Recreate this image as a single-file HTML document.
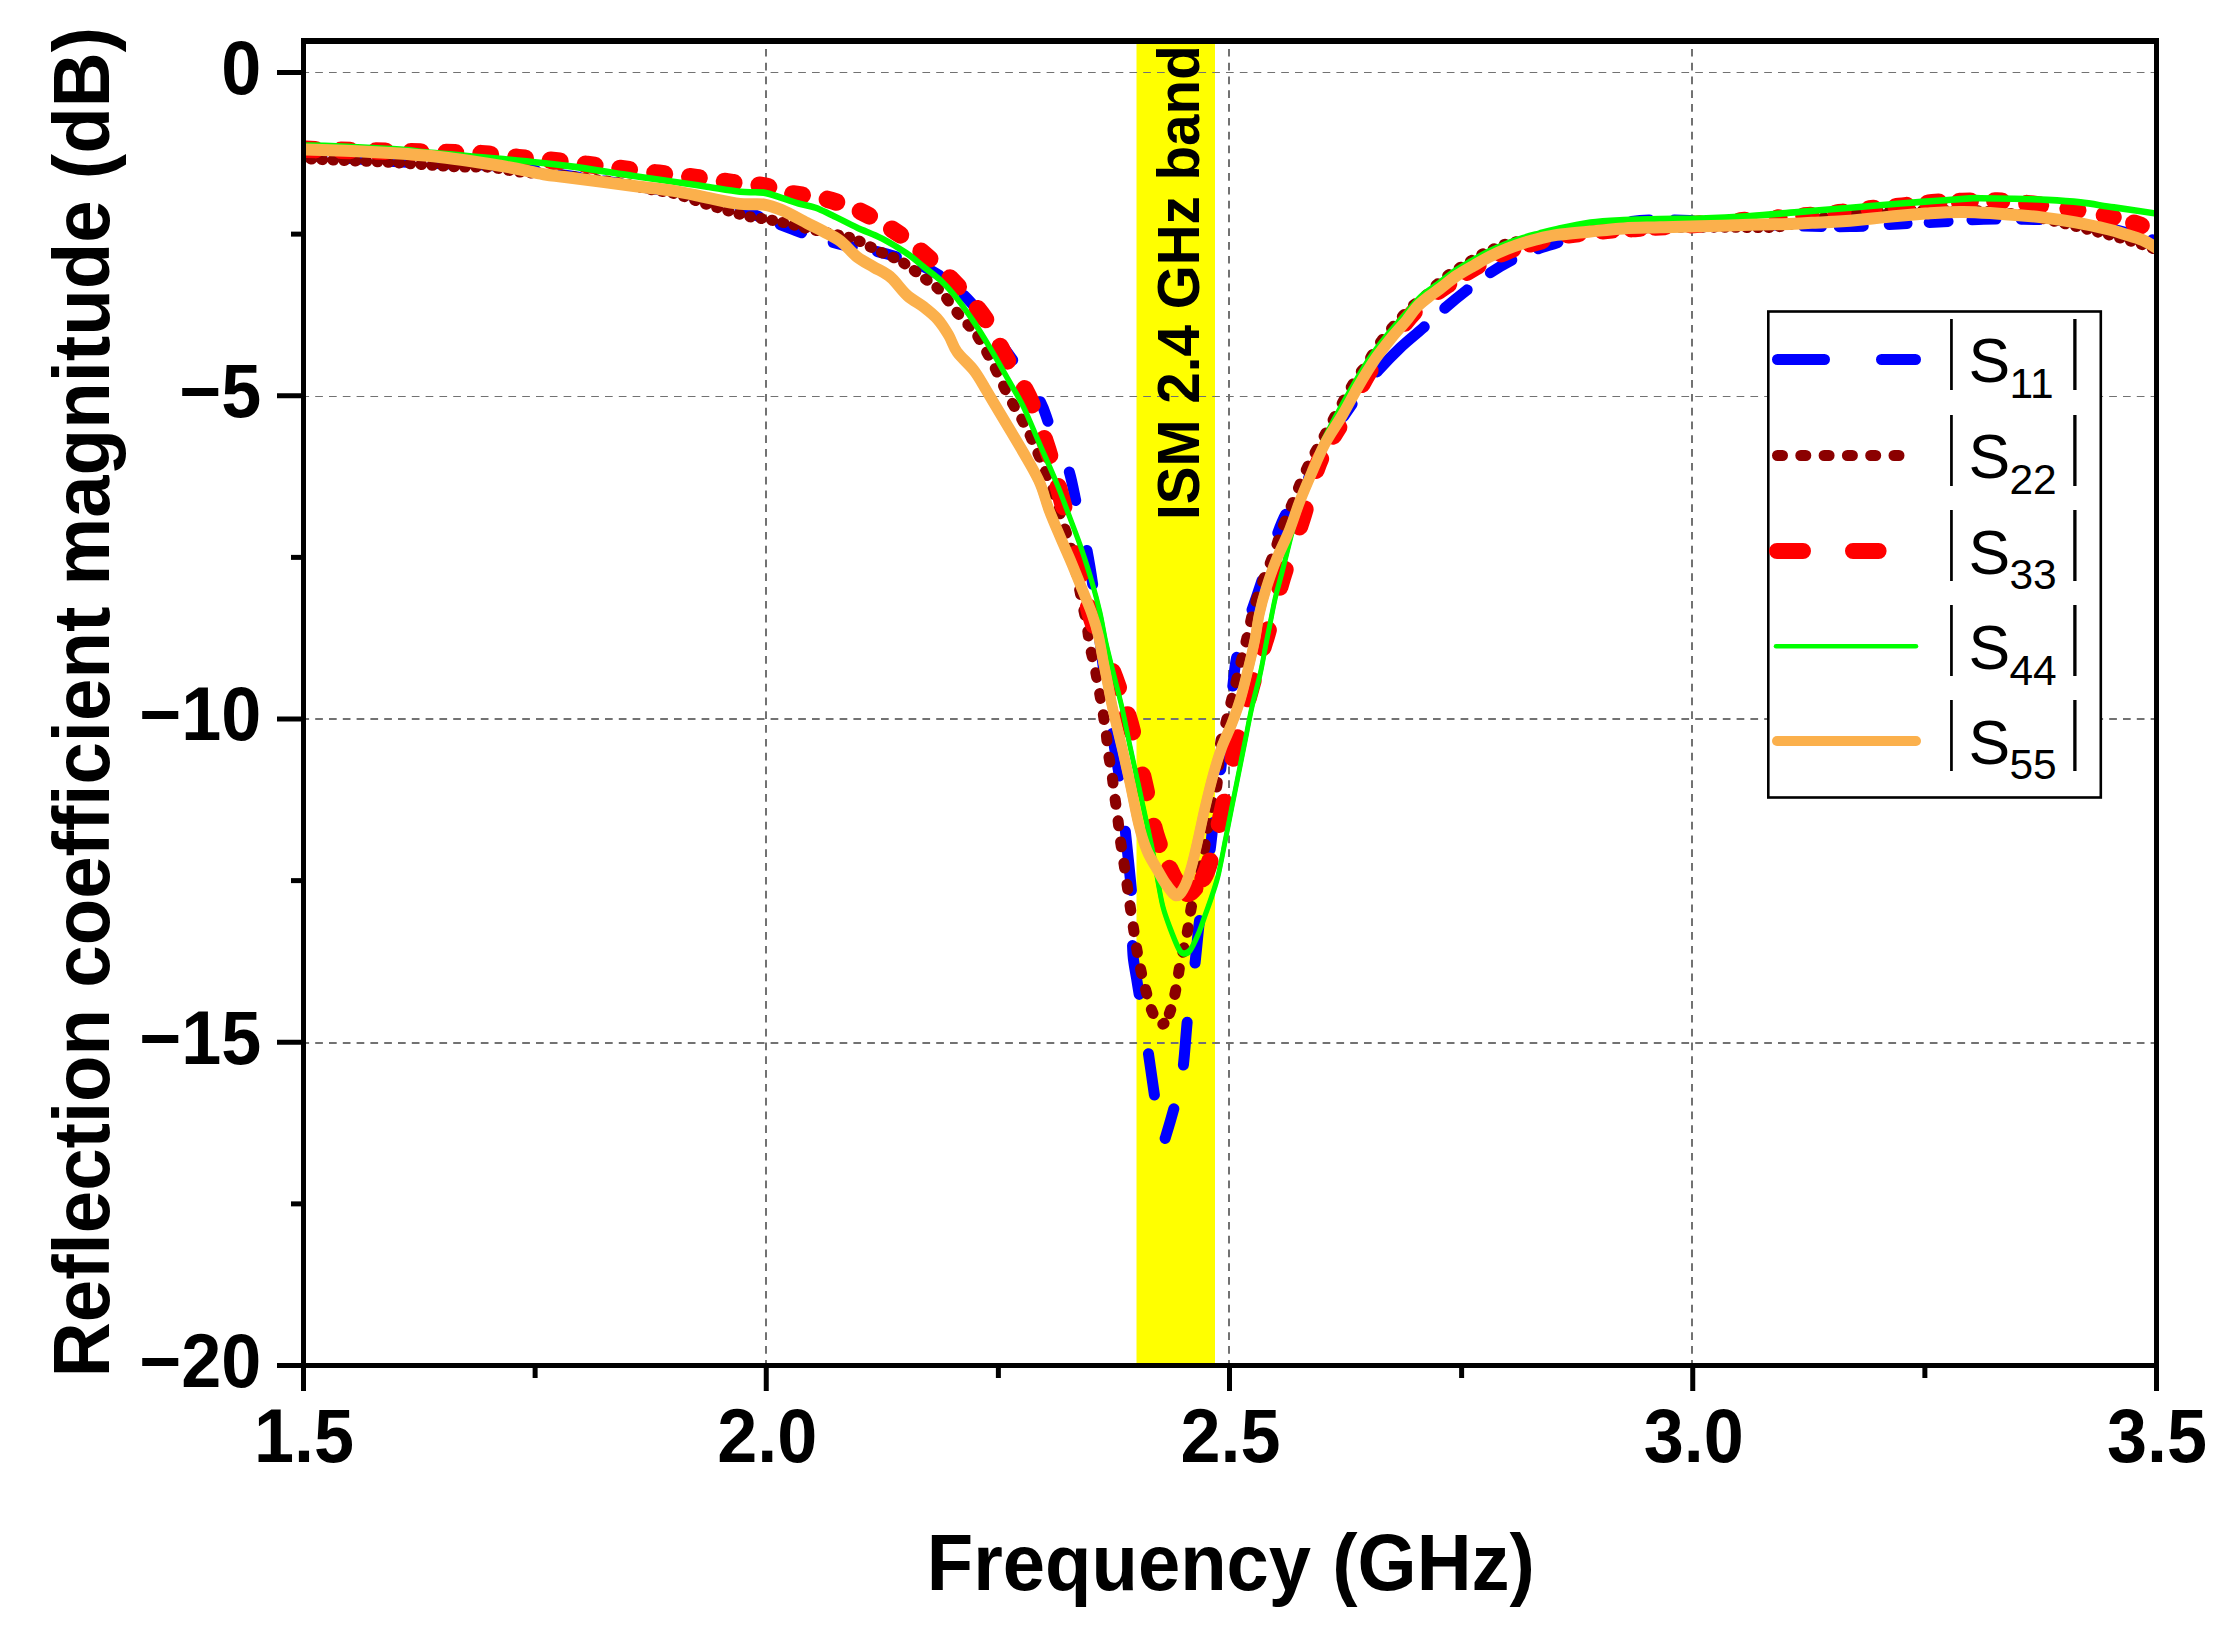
<!DOCTYPE html>
<html><head><meta charset="utf-8"><title>Reflection coefficient magnitude</title>
<style>
html,body{margin:0;padding:0;background:#fff;}
svg{display:block}
text{font-family:"Liberation Sans", sans-serif;fill:#000}
.b{font-weight:bold}
</style></head><body>
<svg width="2217" height="1638" viewBox="0 0 2217 1638">
<rect width="2217" height="1638" fill="#fff"/>
<defs><clipPath id="cp"><rect x="306" y="44" width="1848" height="1319"/></clipPath></defs>

<rect x="1136.5" y="44" width="78.5" height="1319" fill="#ffff00"/>
<g stroke="#727272" stroke-dasharray="7.7 6.1" stroke-dashoffset="4.6" fill="none"><line x1="766" y1="1363" x2="766" y2="44" stroke-width="2"/><line x1="1229" y1="1363" x2="1229" y2="44" stroke-width="2"/><line x1="1692" y1="1363" x2="1692" y2="44" stroke-width="2"/><line x1="306" y1="72.5" x2="2154" y2="72.5" stroke-width="1.15"/><line x1="306" y1="396.5" x2="2154" y2="396.5" stroke-width="1.15"/><line x1="306" y1="719" x2="2154" y2="719" stroke-width="2"/><line x1="306" y1="1043" x2="2154" y2="1043" stroke-width="2"/></g>
<text class="b" font-size="56.6" transform="translate(1199,520) rotate(-90) scale(1,1.035)">ISM 2.4 GHz band</text>
<g clip-path="url(#cp)" fill="none" stroke-linecap="round" stroke-linejoin="round">
<path d="M300.0,155.2C309.7,155.8 344.7,158.0 358.0,158.9C371.3,159.8 369.2,160.1 380.0,160.8C390.8,161.5 412.0,162.5 423.0,163.0C434.0,163.5 436.5,163.5 446.0,163.8C455.5,164.1 467.7,164.0 480.0,164.8C492.3,165.6 505.5,166.7 520.0,168.5C534.5,170.3 550.3,173.0 567.0,175.5C583.7,178.0 606.2,181.3 620.0,183.5C633.8,185.7 641.2,187.2 650.0,188.5C658.8,189.8 666.3,190.4 673.0,191.5C679.7,192.6 684.4,193.8 690.0,195.0C695.6,196.2 701.0,197.3 706.8,199.0C712.6,200.7 717.0,202.3 725.0,205.0C733.0,207.7 744.2,211.1 755.0,215.0C765.8,218.9 781.4,225.1 790.0,228.3C798.6,231.6 798.0,231.7 806.9,234.5C815.8,237.3 830.2,241.9 843.6,245.2C857.0,248.4 872.0,249.6 887.0,254.0C902.0,258.4 919.8,263.9 933.7,271.9C947.6,279.9 959.0,289.7 970.4,301.9C981.8,314.1 990.8,329.2 1002.0,345.0C1013.2,360.8 1029.6,383.1 1037.6,396.7C1045.6,410.3 1045.1,415.0 1050.1,426.7C1055.1,438.4 1063.2,453.6 1067.7,466.8C1072.2,480.0 1073.9,492.9 1076.9,506.0C1080.0,519.1 1083.2,531.2 1086.0,545.2C1088.8,559.2 1090.7,570.3 1093.5,590.3C1096.3,610.3 1099.7,640.0 1103.0,665.0C1106.3,690.0 1110.6,720.6 1113.4,740.1C1116.2,759.6 1118.1,767.1 1120.1,781.9C1122.0,796.6 1123.1,809.7 1125.1,828.6C1127.0,847.5 1130.6,879.2 1131.8,895.3C1133.0,911.4 1132.0,915.0 1132.2,925.0C1132.4,935.0 1132.3,946.2 1133.0,955.0C1133.7,963.8 1135.3,970.5 1136.5,978.0C1137.7,985.5 1138.2,988.4 1140.1,1000.2C1142.0,1012.0 1145.2,1031.9 1147.7,1048.6C1150.2,1065.3 1153.2,1087.4 1155.2,1100.3C1157.2,1113.2 1158.3,1119.6 1159.5,1126.0C1160.7,1132.4 1161.6,1136.0 1162.3,1138.5C1163.0,1141.0 1163.2,1141.2 1163.8,1141.0C1164.3,1140.8 1163.7,1143.2 1165.6,1137.0C1167.5,1130.8 1172.3,1114.7 1175.2,1103.6C1178.1,1092.5 1180.6,1084.8 1182.7,1070.3C1184.8,1055.8 1185.8,1033.9 1187.7,1016.9C1189.7,999.9 1192.3,985.5 1194.4,968.5C1196.5,951.5 1197.7,933.9 1200.2,915.0C1202.7,896.1 1207.1,871.6 1209.4,855.3C1211.7,838.9 1212.2,830.2 1214.0,816.9C1215.8,803.5 1218.2,789.1 1220.0,775.2C1221.8,761.3 1223.0,747.4 1225.0,733.5C1227.0,719.6 1229.8,705.3 1232.0,691.7C1234.2,678.1 1233.8,667.8 1238.0,651.7C1242.2,635.6 1249.8,616.9 1257.1,595.3C1264.4,573.7 1274.9,538.6 1282.1,521.9C1289.2,505.2 1293.7,506.1 1300.0,495.0C1306.3,483.9 1313.3,467.2 1320.0,455.0C1326.7,442.8 1333.3,432.3 1340.0,422.0C1346.7,411.7 1353.6,401.6 1360.0,393.0C1366.4,384.4 1371.8,377.7 1378.5,370.2C1385.2,362.7 1392.6,355.0 1400.0,348.0C1407.4,341.0 1415.5,334.7 1423.0,328.0C1430.5,321.3 1437.7,314.3 1445.0,308.0C1452.3,301.7 1459.5,295.8 1467.0,290.0C1474.5,284.2 1482.5,278.0 1490.0,273.0C1497.5,268.0 1504.5,263.8 1512.0,260.0C1519.5,256.2 1527.0,253.1 1535.0,250.0C1543.0,246.9 1549.2,245.4 1560.0,241.7C1570.8,238.0 1586.7,231.5 1600.0,228.0C1613.3,224.5 1625.0,221.8 1640.0,220.6C1655.0,219.4 1671.7,220.0 1690.0,220.6C1708.3,221.2 1731.7,223.1 1750.0,224.0C1768.3,224.9 1783.3,225.6 1800.0,226.0C1816.7,226.4 1833.5,226.9 1850.0,226.6C1866.5,226.3 1883.9,224.8 1898.7,224.0C1913.5,223.2 1924.6,222.8 1938.8,222.0C1953.0,221.2 1969.6,219.8 1983.8,219.3C1998.0,218.9 2011.2,219.1 2023.9,219.3C2036.6,219.5 2047.3,219.3 2060.0,220.5C2072.7,221.7 2088.3,224.3 2100.0,226.5C2111.7,228.7 2120.0,230.9 2130.0,233.5C2140.0,236.1 2155.0,240.6 2160.0,242.0" stroke="#0000ff" stroke-width="11" stroke-dasharray="0.0 4.0 18.0 25.0 18.0 25.0 18.0 25.0 18.0 25.0 18.0 25.0 18.0 25.0 18.0 25.0 18.0 25.0 18.0 25.0 18.0 35.9 19.7 22.8 23.2 33.0 19.8 25.2 20.1 28.0 18.6 31.6 18.7 46.0 16.6 49.7 21.6 54.8 29.3 51.2 34.7 53.1 35.3 61.5 43.6 55.4 59.3 55.0 49.8 60.0 41.2 51.4 30.5 45.2 42.6 59.9 42.8 71.4 27.5 53.3 30.9 53.4 29.5 49.7 30.9 50.1 20.3 43.1 25.2 45.6 15.1 40.8 65.3 27.7 29.0 28.8 24.9 28.7 20.9 33.3 18.2 25.2 18.0 25.0 18.0 25.0 18.0 25.0 18.0 25.0 18.0 17.7 24.1 26.0 17.8 22.5 18.9 23.5 24.1 25.2 18.4 18.5 18.0 36.1 19.9 22.4 2.5 55.5"/>
<path d="M300.0,158.0C303.3,158.2 308.3,158.9 320.0,159.5C331.7,160.1 356.7,160.9 370.0,161.5C383.3,162.1 389.2,162.3 400.0,163.0C410.8,163.7 425.0,164.8 435.0,165.5C445.0,166.2 450.8,166.7 460.0,167.0C469.2,167.3 480.0,166.5 490.0,167.3C500.0,168.1 507.2,170.6 520.0,172.0C532.8,173.4 550.3,174.2 567.0,176.0C583.7,177.8 606.2,180.8 620.0,183.0C633.8,185.2 641.1,187.8 650.0,189.5C658.9,191.2 666.7,191.8 673.4,193.3C680.1,194.8 684.4,196.7 690.0,198.5C695.6,200.3 698.4,201.7 706.8,204.3C715.1,206.9 732.2,212.1 740.1,214.3C748.0,216.5 749.8,216.8 754.3,217.6C758.8,218.4 760.8,218.2 766.8,219.3C772.8,220.4 783.5,222.5 790.2,224.0C796.9,225.5 797.5,226.4 806.9,228.5C816.3,230.6 838.5,234.9 846.9,236.8C855.2,238.7 853.4,238.6 857.0,240.1C860.6,241.6 864.4,243.9 868.6,246.0C872.8,248.1 877.5,250.6 882.0,252.7C886.5,254.8 891.1,256.4 895.3,258.5C899.5,260.6 903.4,262.8 907.0,265.2C910.6,267.6 913.7,270.2 917.0,272.7C920.3,275.2 923.6,277.7 927.0,280.2C930.4,282.7 934.0,284.9 937.1,287.7C940.2,290.5 942.5,293.3 945.4,296.9C948.3,300.5 951.3,305.2 954.6,309.4C957.9,313.6 961.9,318.0 965.4,321.9C968.9,325.8 972.3,328.6 975.4,332.8C978.5,337.0 981.0,342.1 983.8,347.0C986.6,351.9 989.3,356.6 992.1,362.0C994.9,367.4 997.7,373.7 1000.5,379.5C1003.3,385.3 1006.0,391.4 1009.0,397.0C1012.0,402.6 1015.4,408.2 1018.4,413.4C1021.4,418.6 1024.1,423.1 1026.8,428.4C1029.5,433.7 1032.1,440.1 1034.3,445.1C1036.5,450.1 1038.0,453.4 1040.1,458.4C1042.2,463.4 1044.6,469.2 1046.8,475.1C1049.0,481.0 1050.6,484.9 1053.5,493.5C1056.4,502.1 1061.5,518.3 1064.3,526.9C1067.1,535.5 1068.2,537.5 1070.2,545.0C1072.2,552.5 1074.0,562.7 1076.0,572.0C1078.0,581.3 1080.1,592.1 1081.9,601.0C1083.7,609.9 1085.6,618.0 1086.9,625.3C1088.2,632.6 1088.5,638.4 1089.7,645.0C1090.9,651.6 1092.8,658.0 1094.3,665.0C1095.8,672.0 1097.0,679.2 1098.4,686.7C1099.8,694.2 1101.3,702.6 1102.6,710.1C1103.8,717.6 1104.9,724.6 1105.9,731.8C1106.9,739.0 1107.4,746.5 1108.4,753.5C1109.4,760.5 1110.8,766.8 1111.8,773.5C1112.8,780.2 1113.3,786.3 1114.3,793.5C1115.3,800.7 1116.6,809.4 1117.6,816.9C1118.6,824.4 1119.1,831.4 1120.1,838.6C1121.1,845.8 1122.4,852.9 1123.5,860.3C1124.6,867.7 1125.7,875.4 1126.8,883.0C1127.9,890.6 1129.0,898.4 1130.1,906.0C1131.2,913.6 1132.4,921.2 1133.5,928.4C1134.6,935.6 1135.5,942.2 1136.8,949.3C1138.0,956.4 1139.5,964.0 1141.0,971.0C1142.5,978.0 1144.3,984.8 1146.0,991.0C1147.7,997.2 1149.2,1003.6 1151.0,1008.5C1152.8,1013.4 1155.0,1017.6 1156.8,1020.2C1158.6,1022.9 1160.1,1024.5 1161.8,1024.4C1163.5,1024.3 1165.0,1022.9 1166.8,1019.4C1168.6,1015.9 1171.0,1009.5 1172.7,1003.5C1174.4,997.5 1175.7,990.2 1176.9,983.5C1178.2,976.8 1179.0,969.7 1180.2,963.4C1181.5,957.1 1183.2,951.4 1184.4,945.9C1185.7,940.4 1186.6,936.2 1187.7,930.1C1188.8,924.0 1189.8,915.7 1191.0,909.0C1192.2,902.3 1193.7,896.2 1195.2,890.0C1196.7,883.8 1198.7,878.9 1200.2,872.0C1201.7,865.1 1203.2,855.8 1204.4,848.6C1205.7,841.4 1206.5,835.6 1207.7,828.6C1209.0,821.6 1210.4,814.1 1211.9,806.9C1213.4,799.7 1215.5,795.5 1216.9,785.2C1218.3,774.9 1218.9,755.0 1220.3,745.0C1221.7,735.0 1223.6,731.8 1225.3,725.1C1227.0,718.5 1228.6,711.8 1230.3,705.1C1232.0,698.4 1233.6,691.8 1235.3,685.1C1237.0,678.4 1238.7,671.5 1240.3,665.0C1241.9,658.5 1243.6,651.8 1245.0,646.0C1246.4,640.2 1247.2,636.5 1248.7,630.3C1250.2,624.1 1251.6,616.4 1253.8,608.6C1256.0,600.8 1259.3,590.8 1261.9,583.6C1264.5,576.4 1267.0,571.3 1269.4,565.2C1271.8,559.1 1274.0,553.0 1276.1,546.9C1278.2,540.8 1279.6,534.9 1282.0,528.5C1284.4,522.1 1287.8,514.6 1290.3,508.5C1292.8,502.4 1294.8,497.4 1297.0,491.8C1299.2,486.2 1301.3,480.6 1303.8,475.1C1306.3,469.6 1308.9,464.1 1311.8,458.6C1314.7,453.1 1317.9,447.5 1321.0,441.9C1324.1,436.3 1327.0,431.0 1330.2,425.2C1333.4,419.4 1337.0,412.7 1340.2,406.9C1343.4,401.1 1346.3,395.5 1349.4,390.2C1352.5,384.9 1355.8,379.4 1358.6,375.2C1361.4,371.0 1363.3,369.4 1366.1,365.2C1368.9,361.0 1372.2,354.8 1375.2,350.1C1378.2,345.4 1381.2,341.0 1384.4,336.8C1387.6,332.6 1391.2,328.7 1394.4,325.1C1397.6,321.5 1400.4,318.4 1403.6,315.1C1406.8,311.8 1410.3,308.0 1413.6,305.1C1416.9,302.2 1420.2,300.5 1423.6,297.6C1426.9,294.7 1430.1,290.9 1433.7,287.5C1437.3,284.1 1441.5,280.4 1445.3,277.5C1449.0,274.6 1452.9,272.2 1456.2,270.0C1459.5,267.8 1462.2,266.2 1465.4,264.2C1468.6,262.3 1472.1,260.2 1475.4,258.3C1478.7,256.4 1482.1,254.2 1485.4,252.5C1488.7,250.8 1491.5,249.8 1495.4,248.3C1499.3,246.8 1501.1,245.1 1508.8,243.3C1516.5,241.5 1529.9,239.6 1541.8,237.6C1553.7,235.6 1567.0,233.0 1580.0,231.5C1593.0,230.0 1606.7,229.2 1620.0,228.5C1633.3,227.8 1643.9,227.7 1660.0,227.5C1676.1,227.3 1697.9,227.2 1716.8,227.2C1735.7,227.1 1759.7,228.1 1773.6,227.2C1787.5,226.3 1791.4,223.6 1800.0,222.0C1808.6,220.4 1816.7,218.9 1825.0,217.5C1833.3,216.1 1835.3,214.6 1850.0,213.5C1864.7,212.4 1894.7,211.6 1913.0,211.0C1931.3,210.4 1945.5,209.8 1960.0,210.0C1974.5,210.2 1988.3,211.5 2000.0,212.5C2011.7,213.5 2019.3,214.2 2030.0,216.0C2040.7,217.8 2053.3,221.0 2064.0,223.5C2074.7,226.0 2084.3,228.5 2094.0,231.0C2103.7,233.5 2114.1,236.1 2122.4,238.5C2130.7,240.9 2137.7,243.1 2144.0,245.2C2150.3,247.3 2157.3,250.0 2160.0,251.0" stroke="#8b0000" stroke-width="11" stroke-dasharray="0.8 10.2 0.8 10.2 0.8 10.2 0.8 10.2 0.8 10.2 0.8 10.2 0.8 10.2 0.8 10.2 0.8 10.2 0.8 10.2 0.8 10.2 0.8 10.2 0.8 10.2 0.8 10.2 0.8 10.2 0.8 10.2 0.8 10.2 0.8 10.2 0.8 10.3 0.9 10.3 0.8 10.2 0.8 10.2 0.8 10.2 0.8 10.2 0.8 10.2 0.8 10.2 0.8 10.2 0.8 10.2 0.8 10.2 0.8 10.3 0.9 10.3 0.9 10.4 0.9 10.3 0.8 10.2 0.9 10.3 1.1 10.6 1.1 10.6 1.0 10.5 1.0 10.5 1.0 10.5 1.0 10.5 0.9 10.3 0.8 10.2 0.9 10.3 0.9 10.3 1.0 10.5 0.9 10.4 0.9 10.3 0.9 10.3 0.9 10.3 0.9 10.4 1.3 11.1 1.4 11.1 1.3 11.0 1.3 10.9 1.6 11.5 2.1 12.1 2.0 12.0 2.3 12.5 3.2 13.9 2.9 13.5 2.6 13.0 3.6 14.5 3.8 14.8 4.0 15.2 4.1 15.3 3.7 14.7 3.7 14.7 4.2 15.4 4.2 15.4 4.3 15.7 4.4 15.8 4.5 15.9 4.5 15.9 4.7 16.3 4.8 16.4 4.8 16.4 4.8 16.3 4.9 16.6 4.7 16.3 4.8 16.4 4.8 16.4 4.9 16.5 4.9 16.6 4.9 16.5 4.9 16.6 4.9 16.5 4.9 16.6 4.9 16.5 4.9 16.5 4.9 16.5 4.9 16.5 4.9 16.5 4.8 16.5 4.8 16.3 4.7 16.2 4.3 15.7 1.4 11.1 4.3 15.7 4.8 16.4 4.9 16.5 4.7 16.2 4.8 16.4 4.9 16.5 4.7 16.2 4.8 16.3 4.9 16.5 4.8 16.4 4.8 16.4 4.9 16.5 5.0 16.7 4.9 16.5 4.7 16.2 4.7 16.2 4.7 16.2 4.7 16.2 4.7 16.3 4.8 16.3 4.5 16.0 4.4 15.7 4.3 15.7 4.5 16.0 4.3 15.6 4.3 15.6 4.3 15.6 4.1 15.2 3.8 14.9 3.8 14.9 3.8 14.9 3.8 14.9 3.7 14.7 3.1 13.7 3.7 14.7 3.4 14.2 2.8 13.4 2.7 13.1 2.3 12.6 2.5 12.8 2.3 12.6 1.9 12.0 1.7 11.6 1.6 11.4 1.6 11.4 1.1 10.7 1.0 10.6 0.9 10.3 0.8 10.3 0.8 10.3 0.9 10.3 0.8 10.3 0.8 10.3 0.8 10.2 0.8 10.2 0.8 10.2 0.8 10.2 0.8 10.2 0.8 10.2 0.8 10.2 0.8 10.2 0.8 10.2 0.8 10.2 0.8 10.2 0.8 10.2 0.8 10.2 0.8 10.2 0.8 10.2 0.8 10.2 0.8 10.2 0.8 10.2 0.8 10.2 0.9 10.4 0.9 10.3 0.9 10.3 0.8 10.3 0.9 10.3 0.8 10.2 0.8 10.2 0.8 10.2 0.8 10.2 0.8 10.2 0.8 10.2 0.8 10.2 0.8 10.2 0.8 10.2 0.8 10.2 0.8 10.2 0.8 10.2 0.8 10.2 0.8 10.2 0.8 10.2 0.8 10.2 0.8 10.2 0.9 10.3 0.9 10.3 0.9 10.4 0.9 10.4 0.9 10.4 0.9 10.4 0.9 10.4 0.9 10.4 1.0 10.4 1.0 10.5 1.0 10.6 1.1 57.2"/>
<path d="M300.0,149.0C305.0,149.2 304.2,149.4 330.0,150.0C355.8,150.6 428.6,152.0 455.0,152.7C481.4,153.4 478.0,153.4 488.6,154.2C499.2,155.0 509.3,156.7 518.6,157.6C527.9,158.5 533.4,158.5 544.5,159.6C555.6,160.7 573.0,162.8 585.4,164.3C597.8,165.7 606.6,166.8 618.8,168.3C631.0,169.8 645.8,171.7 658.8,173.3C671.8,174.8 684.4,176.0 696.7,177.6C709.0,179.2 721.5,181.2 732.6,182.6C743.7,184.0 753.9,184.1 763.5,185.9C773.1,187.7 780.2,191.3 790.2,193.4C800.2,195.5 812.1,195.5 823.6,198.4C835.1,201.3 847.3,205.2 859.5,210.9C871.7,216.6 886.1,225.4 897.0,232.6C907.9,239.8 915.1,246.1 924.6,254.3C934.1,262.5 943.6,271.0 953.8,281.9C963.9,292.8 976.6,306.3 985.5,319.4C994.4,332.5 1000.0,347.4 1007.2,360.3C1014.4,373.2 1021.9,382.3 1028.5,396.7C1035.1,411.1 1041.4,430.1 1046.8,446.8C1052.2,463.5 1055.7,477.3 1061.0,496.8C1066.3,516.3 1073.6,544.1 1078.5,563.6C1083.4,583.1 1086.1,599.5 1090.2,613.6C1094.3,627.7 1098.6,636.4 1103.0,648.0C1107.4,659.6 1112.3,670.8 1116.8,683.4C1121.3,696.0 1125.5,706.7 1130.1,723.4C1134.7,740.1 1140.0,764.9 1144.3,783.5C1148.6,802.1 1151.4,820.3 1156.0,835.3C1160.6,850.3 1167.9,865.0 1171.9,873.6C1175.9,882.2 1177.9,883.8 1180.2,887.0C1182.5,890.2 1183.9,892.5 1186.0,893.0C1188.1,893.5 1189.5,893.8 1193.0,890.0C1196.5,886.2 1202.1,883.0 1206.9,870.3C1211.7,857.6 1217.2,833.9 1221.9,813.6C1226.6,793.3 1230.6,769.1 1235.3,748.5C1240.0,727.9 1245.6,707.4 1250.3,690.1C1255.0,672.9 1260.8,654.4 1263.6,645.0C1266.4,635.6 1264.0,644.8 1267.1,633.7C1270.2,622.6 1276.3,597.8 1282.1,578.6C1287.9,559.4 1296.6,536.0 1302.1,518.5C1307.6,501.0 1311.1,485.1 1314.9,473.4C1318.8,461.8 1321.1,456.9 1325.4,448.6C1329.7,440.4 1335.3,433.1 1340.6,423.9C1345.8,414.7 1351.8,402.7 1356.9,393.3C1362.0,384.0 1365.4,377.1 1371.3,367.9C1377.3,358.6 1385.8,347.1 1392.8,337.9C1399.9,328.6 1407.5,319.2 1413.8,312.4C1420.1,305.5 1425.1,301.5 1430.8,296.9C1436.5,292.2 1440.6,289.4 1448.0,284.5C1455.3,279.5 1467.9,271.6 1475.0,267.3C1482.2,263.0 1485.5,261.2 1491.0,258.4C1496.4,255.7 1502.5,253.0 1507.8,250.8C1513.1,248.7 1517.7,247.3 1522.7,245.8C1527.7,244.3 1532.1,243.2 1537.7,241.7C1543.2,240.2 1550.2,238.1 1556.3,236.8C1562.3,235.5 1565.6,235.1 1574.1,234.0C1582.6,233.0 1596.9,231.2 1607.0,230.3C1617.2,229.4 1619.5,229.4 1635.0,228.4C1650.5,227.3 1676.4,225.7 1700.0,224.0C1723.6,222.3 1758.8,219.5 1776.9,218.1C1795.0,216.7 1798.3,216.5 1808.6,215.6C1818.9,214.7 1828.7,213.9 1838.7,212.8C1848.7,211.7 1858.7,210.1 1868.7,209.0C1878.7,207.9 1888.1,207.4 1898.7,206.4C1909.3,205.4 1921.5,203.6 1932.1,202.8C1942.7,202.0 1951.3,201.7 1962.2,201.4C1973.1,201.1 1985.4,200.5 1997.2,201.0C2009.0,201.5 2020.6,202.9 2033.1,204.3C2045.6,205.7 2059.8,207.4 2072.3,209.3C2084.8,211.2 2097.3,213.5 2108.2,216.0C2119.0,218.5 2128.8,221.6 2137.4,224.3C2146.0,227.0 2156.2,230.7 2160.0,232.0" stroke="#ff0000" stroke-width="17.5" stroke-dasharray="0.0 6.0 9.5 25.5 9.5 25.5 9.5 25.5 9.5 25.5 9.5 25.5 9.5 25.5 9.5 25.5 9.5 25.5 9.5 25.5 9.5 25.5 9.5 25.5 9.5 25.5 9.5 25.5 9.5 25.5 9.5 25.5 9.5 25.6 9.9 26.0 10.4 26.7 11.3 28.0 12.1 29.1 13.3 30.8 16.1 32.9 17.5 35.9 17.5 33.0 20.5 48.6 20.5 34.4 18.5 50.5 16.5 29.3 17.5 44.3 17.5 35.1 18.5 26.4 13.5 17.6 9.5 12.9 18.5 38.2 22.5 45.0 20.5 40.8 18.5 34.7 18.5 44.3 18.5 44.8 18.5 40.4 12.5 26.1 10.5 48.5 16.5 58.4 14.5 32.1 12.5 22.0 12.5 26.1 12.5 18.5 12.5 26.6 10.5 24.0 9.5 19.7 8.5 15.4 9.5 25.5 9.5 40.0 5.0 33.0 1.1 25.5 6.6 25.5 6.7 26.6 4.6 22.5 10.6 21.3 10.8 21.0 10.8 24.4 6.8 25.5 13.7 27.6 9.8 27.1 8.8 21.7 7.7 21.7 0.5 48.2"/>
<g stroke="#00ff00" stroke-width="4.6"><path d="M300.0,145.6C304.2,145.6 308.3,145.1 325.0,145.8C341.7,146.5 383.3,148.5 400.0,149.6C416.7,150.7 416.7,151.6 425.0,152.4C433.3,153.2 441.7,153.7 450.0,154.4C458.3,155.1 466.6,156.0 475.0,156.7C483.4,157.4 485.0,157.3 500.3,158.8C515.6,160.3 544.8,163.0 567.0,165.9C589.2,168.8 616.1,173.4 633.8,176.0C651.5,178.6 661.2,179.9 673.4,181.7C685.6,183.5 695.7,185.0 706.8,186.7C717.9,188.4 730.6,190.8 740.1,191.8C749.6,192.8 756.5,191.6 763.5,192.6C770.5,193.6 776.1,196.2 781.9,198.0C787.7,199.8 793.0,201.9 798.5,203.5C804.0,205.1 809.6,205.7 815.2,207.6C820.8,209.5 824.9,211.8 831.9,215.1C838.9,218.4 848.6,223.7 857.0,227.6C865.4,231.5 873.7,234.2 882.0,238.5C890.3,242.8 900.0,248.8 907.0,253.5C914.0,258.2 918.1,262.4 923.7,266.9C929.3,271.3 934.8,274.9 940.4,280.2C946.0,285.5 951.5,291.7 957.1,298.6C962.7,305.6 968.2,313.6 973.8,321.9C979.4,330.2 984.7,338.9 990.5,348.6C996.3,358.3 1002.9,370.3 1008.4,380.0C1013.9,389.7 1018.1,395.8 1023.4,406.7C1028.7,417.6 1034.5,432.3 1040.1,445.1C1045.7,457.9 1051.8,471.3 1056.8,483.5C1061.8,495.7 1066.0,507.4 1070.2,518.5C1074.4,529.6 1078.3,539.6 1081.9,550.2C1085.5,560.8 1088.9,571.3 1091.9,581.9C1095.0,592.5 1097.9,603.4 1100.2,613.6C1102.5,623.8 1103.8,633.0 1106.0,643.0C1108.2,653.0 1110.8,662.8 1113.4,673.4C1116.0,684.0 1119.0,694.6 1121.8,706.8C1124.6,719.0 1127.3,733.7 1130.1,746.8C1132.9,759.9 1135.7,772.4 1138.5,785.2C1141.3,798.0 1144.3,811.9 1146.8,823.6C1149.3,835.3 1151.6,845.6 1153.5,855.3C1155.4,865.0 1156.4,873.4 1158.0,882.0C1159.6,890.6 1161.0,899.3 1163.0,907.0C1165.0,914.7 1167.6,921.5 1170.2,928.4C1172.8,935.3 1176.3,944.2 1178.5,948.4C1180.7,952.6 1181.5,953.1 1183.5,953.4C1185.5,953.7 1187.7,953.4 1190.2,950.1C1192.7,946.8 1196.1,939.2 1198.6,933.4C1201.1,927.5 1203.0,921.2 1205.2,915.0C1207.4,908.8 1209.7,902.9 1211.9,896.0C1214.1,889.1 1216.4,882.9 1218.6,873.6C1220.8,864.3 1223.1,851.4 1225.3,840.3C1227.5,829.2 1229.7,818.0 1231.9,806.9C1234.1,795.8 1236.4,784.6 1238.6,773.5C1240.8,762.4 1243.1,751.2 1245.3,740.1C1247.5,729.0 1249.5,717.9 1252.0,706.8C1254.5,695.7 1258.0,683.7 1260.3,673.4C1262.6,663.1 1264.1,653.6 1265.8,645.0C1267.5,636.4 1268.8,630.0 1270.4,622.0C1272.0,614.0 1273.5,605.4 1275.5,597.0C1277.5,588.6 1279.0,583.9 1282.1,571.9C1285.2,559.9 1290.8,537.0 1294.0,525.0C1297.2,513.0 1298.3,508.5 1301.0,500.0C1303.7,491.5 1306.7,483.0 1310.0,474.0C1313.3,465.0 1316.7,455.6 1321.0,446.0C1325.3,436.4 1330.4,426.5 1335.7,416.6C1341.0,406.6 1347.1,395.7 1352.7,386.2C1358.2,376.7 1363.3,367.9 1368.8,359.6C1374.4,351.3 1380.4,343.6 1386.1,336.5C1391.8,329.3 1397.3,323.4 1403.1,316.7C1408.9,310.1 1415.2,302.0 1420.8,296.7C1426.5,291.3 1431.4,288.8 1437.0,284.7C1442.6,280.5 1448.4,275.4 1454.2,271.5C1459.9,267.6 1465.9,264.4 1471.5,261.1C1477.1,257.9 1482.1,254.9 1487.7,252.1C1493.3,249.3 1499.3,246.6 1505.1,244.3C1510.9,241.9 1516.9,239.9 1522.5,238.1C1528.1,236.3 1533.1,235.1 1538.8,233.6C1544.4,232.1 1547.6,231.0 1556.2,229.2C1564.8,227.3 1579.1,224.0 1590.4,222.5C1601.7,221.0 1612.2,220.6 1623.8,220.0C1635.4,219.4 1647.3,219.2 1660.0,219.0C1672.7,218.8 1685.1,219.0 1700.1,218.5C1715.1,218.0 1733.5,217.1 1750.2,216.0C1766.9,214.9 1783.6,213.3 1800.3,211.9C1817.0,210.5 1833.6,209.1 1850.3,207.7C1867.0,206.3 1886.5,204.6 1900.4,203.5C1914.3,202.4 1922.2,201.8 1933.8,201.0C1945.4,200.2 1962.2,198.9 1970.0,198.4C1977.8,197.9 1973.2,198.1 1980.5,198.2C1987.8,198.2 2002.8,198.4 2013.9,198.7C2025.0,199.0 2036.2,199.3 2047.3,199.9C2058.4,200.5 2069.5,201.2 2080.6,202.4C2091.7,203.7 2100.8,205.5 2114.0,207.4C2127.2,209.3 2152.3,213.0 2160.0,214.1" transform="translate(0,-1)"/><path d="M300.0,145.6C304.2,145.6 308.3,145.1 325.0,145.8C341.7,146.5 383.3,148.5 400.0,149.6C416.7,150.7 416.7,151.6 425.0,152.4C433.3,153.2 441.7,153.7 450.0,154.4C458.3,155.1 466.6,156.0 475.0,156.7C483.4,157.4 485.0,157.3 500.3,158.8C515.6,160.3 544.8,163.0 567.0,165.9C589.2,168.8 616.1,173.4 633.8,176.0C651.5,178.6 661.2,179.9 673.4,181.7C685.6,183.5 695.7,185.0 706.8,186.7C717.9,188.4 730.6,190.8 740.1,191.8C749.6,192.8 756.5,191.6 763.5,192.6C770.5,193.6 776.1,196.2 781.9,198.0C787.7,199.8 793.0,201.9 798.5,203.5C804.0,205.1 809.6,205.7 815.2,207.6C820.8,209.5 824.9,211.8 831.9,215.1C838.9,218.4 848.6,223.7 857.0,227.6C865.4,231.5 873.7,234.2 882.0,238.5C890.3,242.8 900.0,248.8 907.0,253.5C914.0,258.2 918.1,262.4 923.7,266.9C929.3,271.3 934.8,274.9 940.4,280.2C946.0,285.5 951.5,291.7 957.1,298.6C962.7,305.6 968.2,313.6 973.8,321.9C979.4,330.2 984.7,338.9 990.5,348.6C996.3,358.3 1002.9,370.3 1008.4,380.0C1013.9,389.7 1018.1,395.8 1023.4,406.7C1028.7,417.6 1034.5,432.3 1040.1,445.1C1045.7,457.9 1051.8,471.3 1056.8,483.5C1061.8,495.7 1066.0,507.4 1070.2,518.5C1074.4,529.6 1078.3,539.6 1081.9,550.2C1085.5,560.8 1088.9,571.3 1091.9,581.9C1095.0,592.5 1097.9,603.4 1100.2,613.6C1102.5,623.8 1103.8,633.0 1106.0,643.0C1108.2,653.0 1110.8,662.8 1113.4,673.4C1116.0,684.0 1119.0,694.6 1121.8,706.8C1124.6,719.0 1127.3,733.7 1130.1,746.8C1132.9,759.9 1135.7,772.4 1138.5,785.2C1141.3,798.0 1144.3,811.9 1146.8,823.6C1149.3,835.3 1151.6,845.6 1153.5,855.3C1155.4,865.0 1156.4,873.4 1158.0,882.0C1159.6,890.6 1161.0,899.3 1163.0,907.0C1165.0,914.7 1167.6,921.5 1170.2,928.4C1172.8,935.3 1176.3,944.2 1178.5,948.4C1180.7,952.6 1181.5,953.1 1183.5,953.4C1185.5,953.7 1187.7,953.4 1190.2,950.1C1192.7,946.8 1196.1,939.2 1198.6,933.4C1201.1,927.5 1203.0,921.2 1205.2,915.0C1207.4,908.8 1209.7,902.9 1211.9,896.0C1214.1,889.1 1216.4,882.9 1218.6,873.6C1220.8,864.3 1223.1,851.4 1225.3,840.3C1227.5,829.2 1229.7,818.0 1231.9,806.9C1234.1,795.8 1236.4,784.6 1238.6,773.5C1240.8,762.4 1243.1,751.2 1245.3,740.1C1247.5,729.0 1249.5,717.9 1252.0,706.8C1254.5,695.7 1258.0,683.7 1260.3,673.4C1262.6,663.1 1264.1,653.6 1265.8,645.0C1267.5,636.4 1268.8,630.0 1270.4,622.0C1272.0,614.0 1273.5,605.4 1275.5,597.0C1277.5,588.6 1279.0,583.9 1282.1,571.9C1285.2,559.9 1290.8,537.0 1294.0,525.0C1297.2,513.0 1298.3,508.5 1301.0,500.0C1303.7,491.5 1306.7,483.0 1310.0,474.0C1313.3,465.0 1316.7,455.6 1321.0,446.0C1325.3,436.4 1330.4,426.5 1335.7,416.6C1341.0,406.6 1347.1,395.7 1352.7,386.2C1358.2,376.7 1363.3,367.9 1368.8,359.6C1374.4,351.3 1380.4,343.6 1386.1,336.5C1391.8,329.3 1397.3,323.4 1403.1,316.7C1408.9,310.1 1415.2,302.0 1420.8,296.7C1426.5,291.3 1431.4,288.8 1437.0,284.7C1442.6,280.5 1448.4,275.4 1454.2,271.5C1459.9,267.6 1465.9,264.4 1471.5,261.1C1477.1,257.9 1482.1,254.9 1487.7,252.1C1493.3,249.3 1499.3,246.6 1505.1,244.3C1510.9,241.9 1516.9,239.9 1522.5,238.1C1528.1,236.3 1533.1,235.1 1538.8,233.6C1544.4,232.1 1547.6,231.0 1556.2,229.2C1564.8,227.3 1579.1,224.0 1590.4,222.5C1601.7,221.0 1612.2,220.6 1623.8,220.0C1635.4,219.4 1647.3,219.2 1660.0,219.0C1672.7,218.8 1685.1,219.0 1700.1,218.5C1715.1,218.0 1733.5,217.1 1750.2,216.0C1766.9,214.9 1783.6,213.3 1800.3,211.9C1817.0,210.5 1833.6,209.1 1850.3,207.7C1867.0,206.3 1886.5,204.6 1900.4,203.5C1914.3,202.4 1922.2,201.8 1933.8,201.0C1945.4,200.2 1962.2,198.9 1970.0,198.4C1977.8,197.9 1973.2,198.1 1980.5,198.2C1987.8,198.2 2002.8,198.4 2013.9,198.7C2025.0,199.0 2036.2,199.3 2047.3,199.9C2058.4,200.5 2069.5,201.2 2080.6,202.4C2091.7,203.7 2100.8,205.5 2114.0,207.4C2127.2,209.3 2152.3,213.0 2160.0,214.1" transform="translate(0,1)"/></g>
<g stroke="#fbb04c" stroke-width="10.3"><path d="M300.0,149.3C311.1,149.7 344.6,150.5 366.8,151.7C389.1,152.8 411.2,153.8 433.5,156.2C455.8,158.5 482.0,162.8 500.3,165.8C518.6,168.8 532.4,172.3 543.5,174.2C554.6,176.1 552.0,175.3 567.0,177.3C582.0,179.3 616.1,183.7 633.8,186.0C651.5,188.3 661.2,189.0 673.4,190.9C685.6,192.8 695.7,195.4 706.8,197.6C717.9,199.8 730.6,202.8 740.1,203.9C749.6,205.1 756.5,203.4 763.5,204.5C770.5,205.6 774.7,207.1 781.9,210.2C789.1,213.3 799.9,219.4 806.9,223.0C813.9,226.6 818.0,228.5 823.6,231.5C829.2,234.5 834.7,236.8 840.3,241.0C845.9,245.2 851.5,252.5 857.0,256.8C862.5,261.1 868.1,263.5 873.6,266.9C879.1,270.2 884.7,272.2 890.3,276.9C895.9,281.6 901.4,290.2 907.0,295.2C912.6,300.2 918.7,303.0 923.7,306.9C928.7,310.8 932.9,313.9 937.1,318.6C941.3,323.3 945.4,329.7 948.7,335.3C952.0,340.9 952.9,346.2 957.1,352.0C961.3,357.8 969.1,364.3 973.8,370.3C978.4,376.3 981.5,382.2 985.0,388.0C988.5,393.8 990.9,398.0 995.1,405.0C999.3,412.0 1004.8,421.2 1010.1,430.1C1015.4,439.0 1021.8,449.5 1026.8,458.4C1031.8,467.3 1036.5,475.1 1040.1,483.5C1043.7,491.9 1045.2,499.6 1048.5,508.5C1051.8,517.4 1056.3,527.7 1060.2,536.9C1064.1,546.1 1068.2,555.0 1071.8,563.6C1075.4,572.2 1078.6,580.3 1081.9,588.6C1085.2,596.9 1089.1,605.7 1091.9,613.6C1094.7,621.5 1096.7,628.3 1098.5,636.0C1100.3,643.7 1101.6,652.7 1103.0,660.0C1104.4,667.3 1105.3,671.4 1107.0,680.0C1108.7,688.6 1110.9,700.7 1113.4,711.8C1115.9,722.9 1119.0,734.8 1121.8,746.8C1124.6,758.8 1127.3,770.7 1130.1,783.5C1132.9,796.3 1135.7,812.5 1138.5,823.6C1141.3,834.7 1143.8,842.8 1146.8,850.3C1149.8,857.8 1153.5,862.8 1156.8,868.6C1160.1,874.4 1163.4,880.8 1166.8,885.3C1170.2,889.8 1173.8,895.3 1176.9,895.3C1180.0,895.3 1182.7,890.3 1185.2,885.3C1187.7,880.3 1189.7,873.4 1191.9,865.3C1194.1,857.2 1196.4,846.6 1198.6,836.9C1200.8,827.2 1202.7,817.5 1205.2,806.9C1207.7,796.3 1210.8,783.5 1213.6,773.5C1216.4,763.5 1218.9,755.1 1221.9,746.8C1225.0,738.4 1228.8,731.5 1231.9,723.4C1235.0,715.3 1238.0,707.3 1240.6,698.4C1243.3,689.5 1245.5,679.7 1247.9,670.0C1250.3,660.3 1252.9,649.4 1254.8,640.0C1256.7,630.6 1257.5,622.2 1259.4,613.6C1261.3,605.0 1263.3,597.5 1266.1,588.6C1268.9,579.7 1272.2,569.9 1276.1,560.2C1280.0,550.5 1285.5,539.9 1289.4,530.2C1293.3,520.5 1295.9,511.3 1299.6,501.8C1303.3,492.3 1307.3,483.0 1311.5,473.3C1315.7,463.6 1319.8,453.4 1324.9,443.7C1330.0,434.0 1336.6,425.1 1342.3,415.3C1348.0,405.6 1353.5,394.7 1359.0,385.2C1364.5,375.7 1370.1,366.6 1375.6,358.5C1381.2,350.4 1387.2,343.1 1392.3,336.8C1397.4,330.5 1402.4,325.5 1406.5,320.5C1410.6,315.5 1413.3,310.7 1417.0,306.8C1420.7,302.9 1424.6,300.1 1428.5,297.0C1432.4,293.9 1435.5,292.1 1440.2,288.5C1444.9,284.9 1451.3,279.5 1456.9,275.7C1462.5,271.9 1468.0,268.9 1473.6,265.7C1479.2,262.5 1484.7,259.2 1490.3,256.4C1495.9,253.6 1501.5,251.1 1507.0,248.9C1512.5,246.7 1518.0,244.8 1523.6,243.0C1529.1,241.2 1534.7,239.8 1540.3,238.4C1545.9,237.1 1548.7,236.1 1557.0,234.9C1565.3,233.8 1579.3,232.6 1590.4,231.5C1601.5,230.4 1612.2,229.1 1623.8,228.4C1635.4,227.7 1647.3,227.7 1660.0,227.3C1672.7,227.0 1685.1,226.7 1700.1,226.3C1715.1,225.9 1737.1,225.2 1750.2,224.8C1763.3,224.5 1770.2,224.4 1778.5,224.2C1786.8,224.0 1794.7,223.6 1800.3,223.4C1805.9,223.2 1806.4,223.1 1811.9,222.8C1817.5,222.5 1827.2,222.2 1833.6,221.8C1839.9,221.5 1842.2,221.4 1850.0,220.7C1857.8,220.0 1869.8,218.6 1880.4,217.6C1891.0,216.6 1905.5,215.2 1913.8,214.5C1922.1,213.8 1924.5,213.7 1930.0,213.3C1935.5,212.9 1942.1,212.5 1947.1,212.3C1952.1,212.1 1955.3,212.0 1960.0,212.0C1964.7,212.0 1966.9,211.9 1975.0,212.3C1983.1,212.7 1997.3,213.6 2008.5,214.4C2019.7,215.2 2030.8,216.1 2041.9,217.4C2053.1,218.7 2064.2,220.4 2075.4,222.4C2086.6,224.4 2100.5,227.5 2108.8,229.5C2117.1,231.5 2119.4,232.5 2125.0,234.2C2130.6,235.9 2137.5,237.8 2142.3,239.9C2147.1,242.0 2150.6,244.4 2154.0,246.5C2157.4,248.6 2161.5,251.2 2163.0,252.2" transform="translate(0,-0.85)"/><path d="M300.0,149.3C311.1,149.7 344.6,150.5 366.8,151.7C389.1,152.8 411.2,153.8 433.5,156.2C455.8,158.5 482.0,162.8 500.3,165.8C518.6,168.8 532.4,172.3 543.5,174.2C554.6,176.1 552.0,175.3 567.0,177.3C582.0,179.3 616.1,183.7 633.8,186.0C651.5,188.3 661.2,189.0 673.4,190.9C685.6,192.8 695.7,195.4 706.8,197.6C717.9,199.8 730.6,202.8 740.1,203.9C749.6,205.1 756.5,203.4 763.5,204.5C770.5,205.6 774.7,207.1 781.9,210.2C789.1,213.3 799.9,219.4 806.9,223.0C813.9,226.6 818.0,228.5 823.6,231.5C829.2,234.5 834.7,236.8 840.3,241.0C845.9,245.2 851.5,252.5 857.0,256.8C862.5,261.1 868.1,263.5 873.6,266.9C879.1,270.2 884.7,272.2 890.3,276.9C895.9,281.6 901.4,290.2 907.0,295.2C912.6,300.2 918.7,303.0 923.7,306.9C928.7,310.8 932.9,313.9 937.1,318.6C941.3,323.3 945.4,329.7 948.7,335.3C952.0,340.9 952.9,346.2 957.1,352.0C961.3,357.8 969.1,364.3 973.8,370.3C978.4,376.3 981.5,382.2 985.0,388.0C988.5,393.8 990.9,398.0 995.1,405.0C999.3,412.0 1004.8,421.2 1010.1,430.1C1015.4,439.0 1021.8,449.5 1026.8,458.4C1031.8,467.3 1036.5,475.1 1040.1,483.5C1043.7,491.9 1045.2,499.6 1048.5,508.5C1051.8,517.4 1056.3,527.7 1060.2,536.9C1064.1,546.1 1068.2,555.0 1071.8,563.6C1075.4,572.2 1078.6,580.3 1081.9,588.6C1085.2,596.9 1089.1,605.7 1091.9,613.6C1094.7,621.5 1096.7,628.3 1098.5,636.0C1100.3,643.7 1101.6,652.7 1103.0,660.0C1104.4,667.3 1105.3,671.4 1107.0,680.0C1108.7,688.6 1110.9,700.7 1113.4,711.8C1115.9,722.9 1119.0,734.8 1121.8,746.8C1124.6,758.8 1127.3,770.7 1130.1,783.5C1132.9,796.3 1135.7,812.5 1138.5,823.6C1141.3,834.7 1143.8,842.8 1146.8,850.3C1149.8,857.8 1153.5,862.8 1156.8,868.6C1160.1,874.4 1163.4,880.8 1166.8,885.3C1170.2,889.8 1173.8,895.3 1176.9,895.3C1180.0,895.3 1182.7,890.3 1185.2,885.3C1187.7,880.3 1189.7,873.4 1191.9,865.3C1194.1,857.2 1196.4,846.6 1198.6,836.9C1200.8,827.2 1202.7,817.5 1205.2,806.9C1207.7,796.3 1210.8,783.5 1213.6,773.5C1216.4,763.5 1218.9,755.1 1221.9,746.8C1225.0,738.4 1228.8,731.5 1231.9,723.4C1235.0,715.3 1238.0,707.3 1240.6,698.4C1243.3,689.5 1245.5,679.7 1247.9,670.0C1250.3,660.3 1252.9,649.4 1254.8,640.0C1256.7,630.6 1257.5,622.2 1259.4,613.6C1261.3,605.0 1263.3,597.5 1266.1,588.6C1268.9,579.7 1272.2,569.9 1276.1,560.2C1280.0,550.5 1285.5,539.9 1289.4,530.2C1293.3,520.5 1295.9,511.3 1299.6,501.8C1303.3,492.3 1307.3,483.0 1311.5,473.3C1315.7,463.6 1319.8,453.4 1324.9,443.7C1330.0,434.0 1336.6,425.1 1342.3,415.3C1348.0,405.6 1353.5,394.7 1359.0,385.2C1364.5,375.7 1370.1,366.6 1375.6,358.5C1381.2,350.4 1387.2,343.1 1392.3,336.8C1397.4,330.5 1402.4,325.5 1406.5,320.5C1410.6,315.5 1413.3,310.7 1417.0,306.8C1420.7,302.9 1424.6,300.1 1428.5,297.0C1432.4,293.9 1435.5,292.1 1440.2,288.5C1444.9,284.9 1451.3,279.5 1456.9,275.7C1462.5,271.9 1468.0,268.9 1473.6,265.7C1479.2,262.5 1484.7,259.2 1490.3,256.4C1495.9,253.6 1501.5,251.1 1507.0,248.9C1512.5,246.7 1518.0,244.8 1523.6,243.0C1529.1,241.2 1534.7,239.8 1540.3,238.4C1545.9,237.1 1548.7,236.1 1557.0,234.9C1565.3,233.8 1579.3,232.6 1590.4,231.5C1601.5,230.4 1612.2,229.1 1623.8,228.4C1635.4,227.7 1647.3,227.7 1660.0,227.3C1672.7,227.0 1685.1,226.7 1700.1,226.3C1715.1,225.9 1737.1,225.2 1750.2,224.8C1763.3,224.5 1770.2,224.4 1778.5,224.2C1786.8,224.0 1794.7,223.6 1800.3,223.4C1805.9,223.2 1806.4,223.1 1811.9,222.8C1817.5,222.5 1827.2,222.2 1833.6,221.8C1839.9,221.5 1842.2,221.4 1850.0,220.7C1857.8,220.0 1869.8,218.6 1880.4,217.6C1891.0,216.6 1905.5,215.2 1913.8,214.5C1922.1,213.8 1924.5,213.7 1930.0,213.3C1935.5,212.9 1942.1,212.5 1947.1,212.3C1952.1,212.1 1955.3,212.0 1960.0,212.0C1964.7,212.0 1966.9,211.9 1975.0,212.3C1983.1,212.7 1997.3,213.6 2008.5,214.4C2019.7,215.2 2030.8,216.1 2041.9,217.4C2053.1,218.7 2064.2,220.4 2075.4,222.4C2086.6,224.4 2100.5,227.5 2108.8,229.5C2117.1,231.5 2119.4,232.5 2125.0,234.2C2130.6,235.9 2137.5,237.8 2142.3,239.9C2147.1,242.0 2150.6,244.4 2154.0,246.5C2157.4,248.6 2161.5,251.2 2163.0,252.2" transform="translate(0,0.85)"/></g>
</g>
<g stroke="#000" fill="none" stroke-linecap="butt">
<rect x="303.5" y="41" width="1853" height="1324.5" stroke-width="5"/>
<line x1="301" y1="41" x2="2159" y2="41" stroke-width="6"/>
<g stroke-width="5"><line x1="303.5" y1="1365" x2="303.5" y2="1391"/><line x1="535.125" y1="1365" x2="535.125" y2="1378"/><line x1="766.25" y1="1365" x2="766.25" y2="1391"/><line x1="998.375" y1="1365" x2="998.375" y2="1378"/><line x1="1229.5" y1="1365" x2="1229.5" y2="1391"/><line x1="1461.625" y1="1365" x2="1461.625" y2="1378"/><line x1="1692.75" y1="1365" x2="1692.75" y2="1391"/><line x1="1924.875" y1="1365" x2="1924.875" y2="1378"/><line x1="2156.5" y1="1365" x2="2156.5" y2="1391"/><line x1="277" y1="72.5" x2="304" y2="72.5"/><line x1="291" y1="234.125" x2="304" y2="234.125"/><line x1="277" y1="395.75" x2="304" y2="395.75"/><line x1="291" y1="557.375" x2="304" y2="557.375"/><line x1="277" y1="719.0" x2="304" y2="719.0"/><line x1="291" y1="880.625" x2="304" y2="880.625"/><line x1="277" y1="1042.25" x2="304" y2="1042.25"/><line x1="291" y1="1203.875" x2="304" y2="1203.875"/><line x1="277" y1="1365.5" x2="304" y2="1365.5"/></g>
</g>
<text class="b" font-size="72" text-anchor="middle" transform="translate(304.0,1462) scale(1,1.045)">1.5</text>
<text class="b" font-size="72" text-anchor="middle" transform="translate(767.2,1462) scale(1,1.045)">2.0</text>
<text class="b" font-size="72" text-anchor="middle" transform="translate(1230.5,1462) scale(1,1.045)">2.5</text>
<text class="b" font-size="72" text-anchor="middle" transform="translate(1693.8,1462) scale(1,1.045)">3.0</text>
<text class="b" font-size="72" text-anchor="middle" transform="translate(2157.0,1462) scale(1,1.045)">3.5</text>
<text class="b" font-size="72" text-anchor="end" transform="translate(261.3,93.7) scale(1,1.045)">0</text>
<text class="b" font-size="72" text-anchor="end" transform="translate(261.3,416.9) scale(1,1.045)">−5</text>
<text class="b" font-size="72" text-anchor="end" transform="translate(261.3,740.2) scale(1,1.045)">−10</text>
<text class="b" font-size="72" text-anchor="end" transform="translate(261.3,1063.5) scale(1,1.045)">−15</text>
<text class="b" font-size="72" text-anchor="end" transform="translate(261.3,1386.7) scale(1,1.045)">−20</text>
<text class="b" font-size="76" text-anchor="middle" transform="translate(1230.8,1590) scale(1,1.045)">Frequency (GHz)</text>
<text class="b" font-size="76.2" text-anchor="middle" transform="translate(109,702) rotate(-90) scale(1,1.045)">Reflection coefficient magnitude (dB)</text>
<rect x="1768.3" y="311.5" width="332.5" height="486" fill="#fff" stroke="#000" stroke-width="2.6"/>
<g fill="none" stroke-linecap="round">
<path d="M1777.5,359.5H1824.5M1881.5,359.5H1915.5" stroke="#0000ff" stroke-width="11"/>
<path d="M1777.5,455.5H1900" stroke="#8b0000" stroke-width="11" stroke-dasharray="5 18.3"/>
<path d="M1777,551H1803M1853,551H1878.6" stroke="#ff0000" stroke-width="16"/>
<path d="M1776,646.3H1916" stroke="#00ff00" stroke-width="4.5"/>
<path d="M1777,741H1916" stroke="#fbb04c" stroke-width="10"/>
</g>
<text font-size="61" transform="translate(1947.03,373.65) scale(0.56,1.231)">|</text>
<text font-size="61" transform="translate(2069.47,373.65) scale(0.68,1.231)">|</text>
<text font-size="62.5" x="1968.4" y="382.3">S<tspan font-size="42.5" dx="-0.6" dy="15.6">11</tspan></text>
<text font-size="61" transform="translate(1947.03,469.65) scale(0.56,1.231)">|</text>
<text font-size="61" transform="translate(2069.47,469.65) scale(0.68,1.231)">|</text>
<text font-size="62.5" x="1968.4" y="478.3">S<tspan font-size="42.5" dx="-0.6" dy="15.6">22</tspan></text>
<text font-size="61" transform="translate(1947.03,565.15) scale(0.56,1.231)">|</text>
<text font-size="61" transform="translate(2069.47,565.15) scale(0.68,1.231)">|</text>
<text font-size="62.5" x="1968.4" y="573.8">S<tspan font-size="42.5" dx="-0.6" dy="15.6">33</tspan></text>
<text font-size="61" transform="translate(1947.03,660.45) scale(0.56,1.231)">|</text>
<text font-size="61" transform="translate(2069.47,660.45) scale(0.68,1.231)">|</text>
<text font-size="62.5" x="1968.4" y="669.1">S<tspan font-size="42.5" dx="-0.6" dy="15.6">44</tspan></text>
<text font-size="61" transform="translate(1947.03,755.15) scale(0.56,1.231)">|</text>
<text font-size="61" transform="translate(2069.47,755.15) scale(0.68,1.231)">|</text>
<text font-size="62.5" x="1968.4" y="763.8">S<tspan font-size="42.5" dx="-0.6" dy="15.6">55</tspan></text>
</svg></body></html>
